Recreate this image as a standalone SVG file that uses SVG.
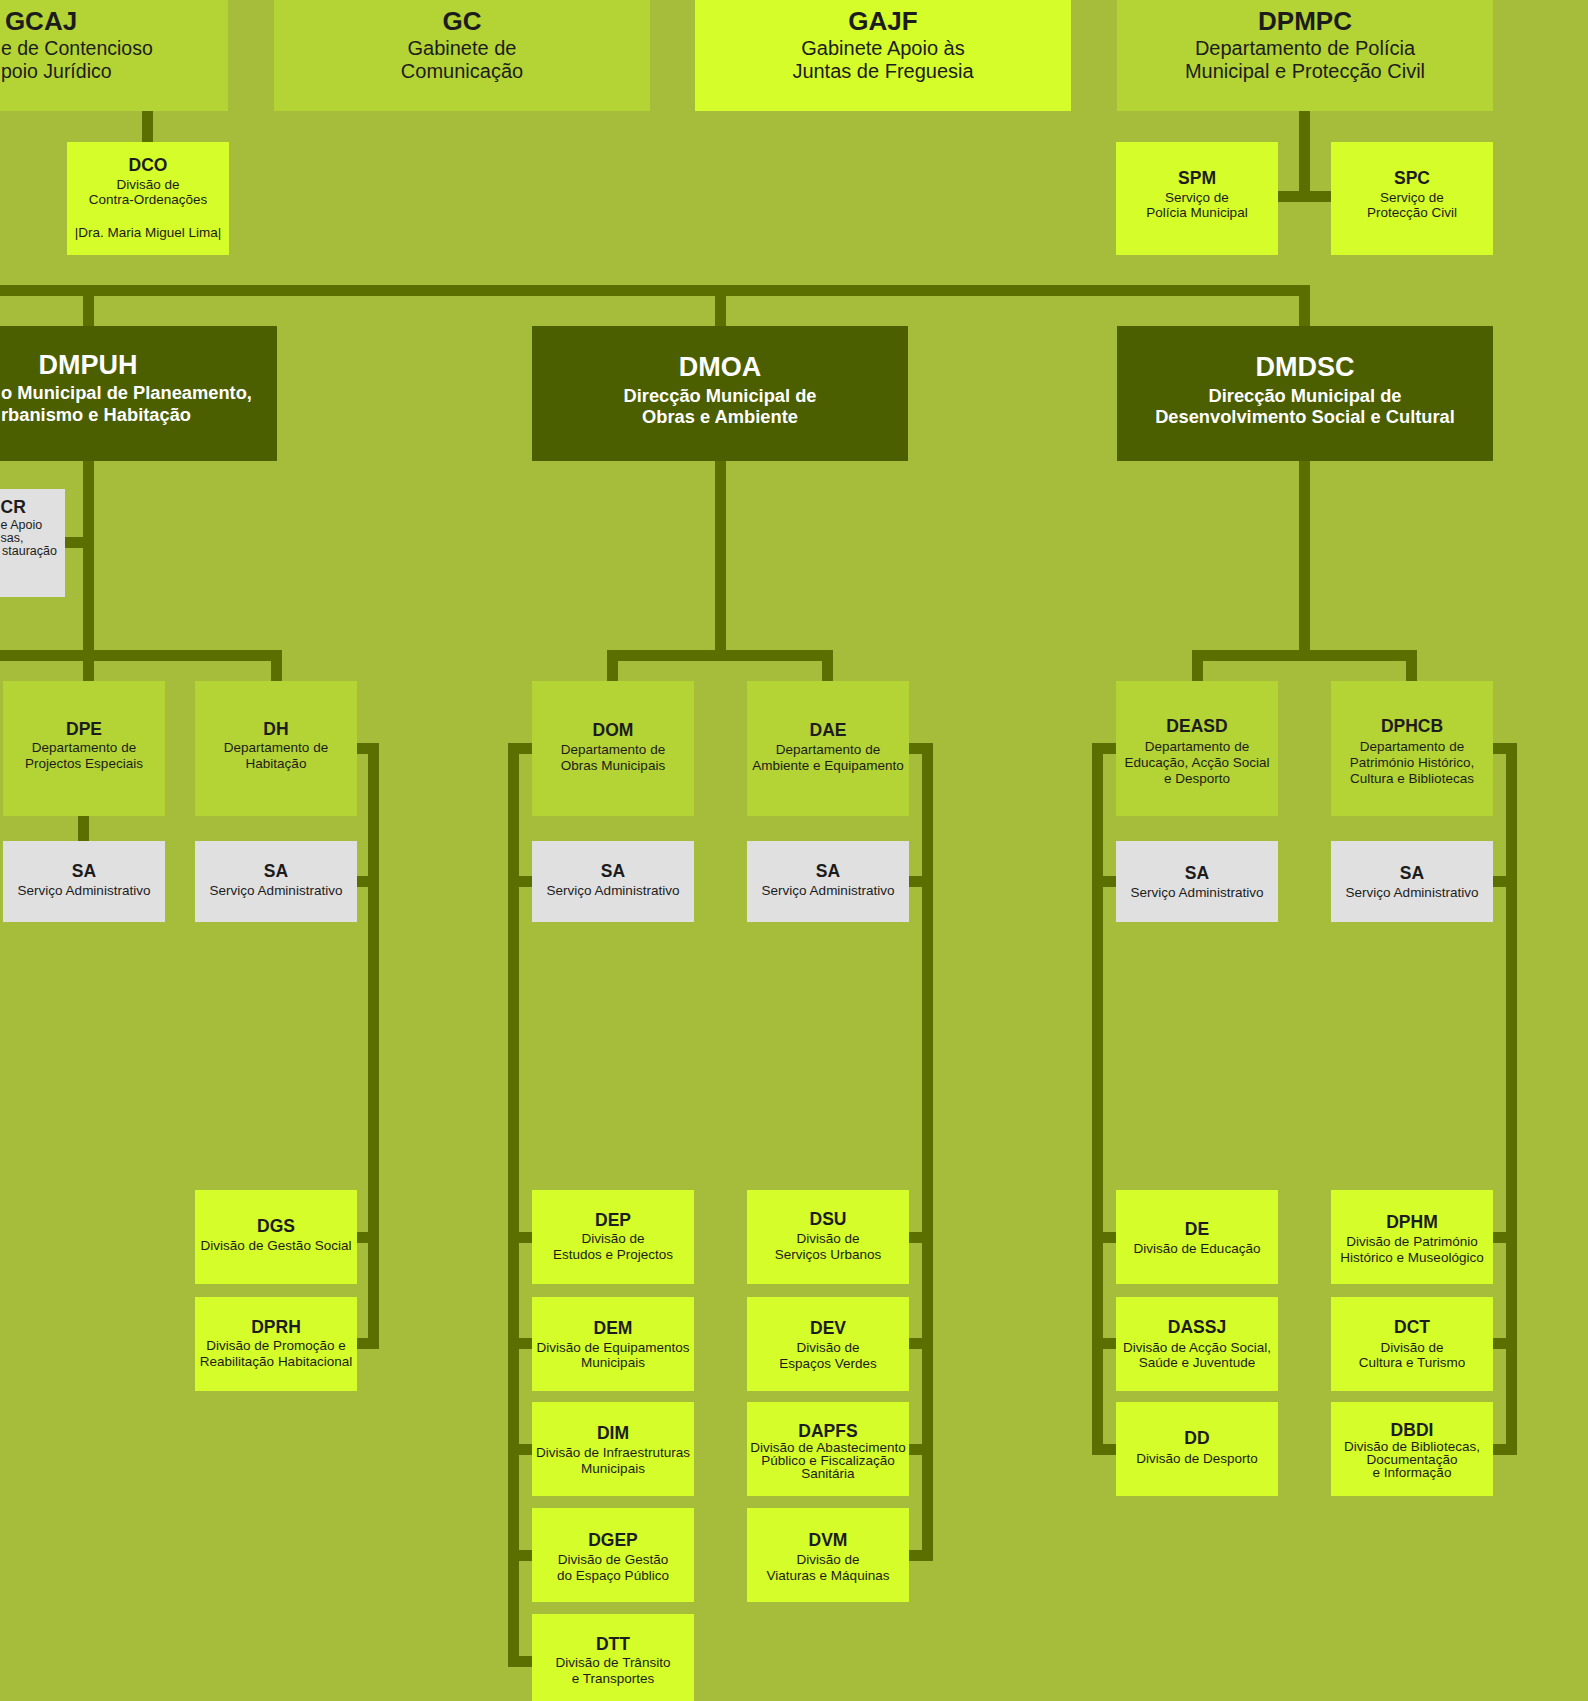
<svg xmlns="http://www.w3.org/2000/svg" width="1588" height="1701" viewBox="0 0 1588 1701">
<style>
text{font-family:"Liberation Sans",Arial,sans-serif;text-anchor:middle;fill:#1c1c1c}
.e{text-anchor:end}
.st{text-anchor:start}
.tt{font-size:26px;font-weight:bold}
.ts{font-size:20px}
.tf{font-size:19.5px}
.dt{font-size:27px;font-weight:bold;fill:#ffffff}
.ds{font-size:18.3px;font-weight:bold;fill:#ffffff}
.ti{font-size:17.5px;font-weight:bold}
.tx{font-size:13.5px}
.sm{font-size:12.5px}
.m{fill:#b3d434}
.b{fill:#d4fd2a}
.d{fill:#4b5e00}
.g{fill:#e0e0e0}
.c{fill:none;stroke:#5b6e00;stroke-width:11;stroke-linecap:butt;stroke-linejoin:miter}
</style>
<rect x="0" y="0" width="1588" height="1701" fill="#a5bd3a"/>

<g id="connectors">
<path class="c" d="M147.5 111 V142"/>
<path class="c" d="M1304.5 111 V196.5 M1278 196.5 H1331"/>
<path class="c" d="M0 290.5 H1304.5 V326 M88.5 290.5 V326 M720.5 290.5 V326"/>
<path class="c" d="M88.5 461 V681 M0 655.5 H276.5 V681 M65 542.5 H88.5"/>
<path class="c" d="M83.5 816 V841"/>
<path class="c" d="M720.5 461 V655.5 M612.5 681 V655.5 H827.5 V681"/>
<path class="c" d="M1304.5 461 V655.5 M1197.5 681 V655.5 H1411.5 V681"/>
<path class="c" d="M357 748.5 H373.5 V1343.5 H357 M357 881.5 H373.5 M357 1237.5 H373.5"/>
<path class="c" d="M532 748.5 H513.5 V1661.5 H532 M532 881.5 H513.5 M532 1237.5 H513.5 M532 1343.5 H513.5 M532 1449.5 H513.5 M532 1555.5 H513.5"/>
<path class="c" d="M909 748.5 H927.5 V1555.5 H909 M909 881.5 H927.5 M909 1237.5 H927.5 M909 1343.5 H927.5 M909 1449.5 H927.5"/>
<path class="c" d="M1116 748.5 H1097.5 V1449.5 H1116 M1116 881.5 H1097.5 M1116 1237.5 H1097.5 M1116 1343.5 H1097.5"/>
<path class="c" d="M1493 748.5 H1511.5 V1449.5 H1493 M1493 881.5 H1511.5 M1493 1237.5 H1511.5 M1493 1343.5 H1511.5"/>
</g>

<!-- top row -->
<g id="GCAJ"><rect class="m" x="-148" y="-10" width="376" height="121"/>
<text class="tt" x="41" y="30">GCAJ</text>
<text class="tf st" x="1" y="55">e de Contencioso</text>
<text class="tf st" x="1" y="78">poio Jurídico</text></g>
<g id="GC"><rect class="m" x="274" y="-10" width="376" height="121"/>
<text class="tt" x="462" y="30">GC</text>
<text class="ts" x="462" y="55">Gabinete de</text>
<text class="ts" x="462" y="78">Comunicação</text></g>
<g id="GAJF"><rect class="b" x="695" y="-10" width="376" height="121"/>
<text class="tt" x="883" y="30">GAJF</text>
<text class="ts" x="883" y="55">Gabinete Apoio às</text>
<text class="ts" x="883" y="78">Juntas de Freguesia</text></g>
<g id="DPMPC"><rect class="m" x="1117" y="-10" width="376" height="121"/>
<text class="tt" x="1305" y="30">DPMPC</text>
<text class="ts" x="1305" y="55">Departamento de Polícia</text>
<text class="ts" x="1305" y="78">Municipal e Protecção Civil</text></g>

<g id="DCO"><rect class="b" x="67" y="142" width="162" height="113"/>
<text class="ti" x="148" y="171">DCO</text>
<text class="tx" x="148" y="189">Divisão de</text>
<text class="tx" x="148" y="204">Contra-Ordenações</text>
<text class="tx" x="148" y="237">|Dra. Maria Miguel Lima|</text></g>
<g id="SPM"><rect class="b" x="1116" y="142" width="162" height="113"/>
<text class="ti" x="1197" y="184">SPM</text>
<text class="tx" x="1197" y="202">Serviço de</text>
<text class="tx" x="1197" y="217">Polícia Municipal</text></g>
<g id="SPC"><rect class="b" x="1331" y="142" width="162" height="113"/>
<text class="ti" x="1412" y="184">SPC</text>
<text class="tx" x="1412" y="202">Serviço de</text>
<text class="tx" x="1412" y="217">Protecção Civil</text></g>

<!-- directorates -->
<g id="DMPUH"><rect class="d" x="-99" y="326" width="376" height="135"/>
<text class="dt" x="88" y="374">DMPUH</text>
<text class="ds st" x="1" y="399">o Municipal de Planeamento,</text>
<text class="ds st" x="1" y="421">rbanismo e Habitação</text></g>
<g id="DMOA"><rect class="d" x="532" y="326" width="376" height="135"/>
<text class="dt" x="720" y="376">DMOA</text>
<text class="ds" x="720" y="402">Direcção Municipal de</text>
<text class="ds" x="720" y="423">Obras e Ambiente</text></g>
<g id="DMDSC"><rect class="d" x="1117" y="326" width="376" height="135"/>
<text class="dt" x="1305" y="376">DMDSC</text>
<text class="ds" x="1305" y="402">Direcção Municipal de</text>
<text class="ds" x="1305" y="423">Desenvolvimento Social e Cultural</text></g>

<g id="CR"><rect class="g" x="-97" y="489" width="162" height="108"/>
<text class="ti st" x="0.5" y="513">CR</text>
<text class="sm st" x="0.5" y="529">e Apoio</text>
<text class="sm st" x="0.5" y="542">sas,</text>
<text class="sm st" x="2" y="555">stauração</text></g>

<!-- departments -->
<g id="DPE"><rect class="m" x="3" y="681" width="162" height="135"/>
<text class="ti" x="84" y="735">DPE</text>
<text class="tx" x="84" y="752">Departamento de</text>
<text class="tx" x="84" y="768">Projectos Especiais</text></g>
<g id="DH"><rect class="m" x="195" y="681" width="162" height="135"/>
<text class="ti" x="276" y="735">DH</text>
<text class="tx" x="276" y="752">Departamento de</text>
<text class="tx" x="276" y="768">Habitação</text></g>
<g id="DOM"><rect class="m" x="532" y="681" width="162" height="135"/>
<text class="ti" x="613" y="736">DOM</text>
<text class="tx" x="613" y="754">Departamento de</text>
<text class="tx" x="613" y="770">Obras Municipais</text></g>
<g id="DAE"><rect class="m" x="747" y="681" width="162" height="135"/>
<text class="ti" x="828" y="736">DAE</text>
<text class="tx" x="828" y="754">Departamento de</text>
<text class="tx" x="828" y="770">Ambiente e Equipamento</text></g>
<g id="DEASD"><rect class="m" x="1116" y="681" width="162" height="135"/>
<text class="ti" x="1197" y="732">DEASD</text>
<text class="tx" x="1197" y="751">Departamento de</text>
<text class="tx" x="1197" y="767">Educação, Acção Social</text>
<text class="tx" x="1197" y="783">e Desporto</text></g>
<g id="DPHCB"><rect class="m" x="1331" y="681" width="162" height="135"/>
<text class="ti" x="1412" y="732">DPHCB</text>
<text class="tx" x="1412" y="751">Departamento de</text>
<text class="tx" x="1412" y="767">Património Histórico,</text>
<text class="tx" x="1412" y="783">Cultura e Bibliotecas</text></g>

<!-- SA -->
<g id="SA-DPE"><rect class="g" x="3" y="841" width="162" height="81"/>
<text class="ti" x="84" y="877">SA</text><text class="tx" x="84" y="895">Serviço Administrativo</text></g>
<g id="SA-DH"><rect class="g" x="195" y="841" width="162" height="81"/>
<text class="ti" x="276" y="877">SA</text><text class="tx" x="276" y="895">Serviço Administrativo</text></g>
<g id="SA-DOM"><rect class="g" x="532" y="841" width="162" height="81"/>
<text class="ti" x="613" y="877">SA</text><text class="tx" x="613" y="895">Serviço Administrativo</text></g>
<g id="SA-DAE"><rect class="g" x="747" y="841" width="162" height="81"/>
<text class="ti" x="828" y="877">SA</text><text class="tx" x="828" y="895">Serviço Administrativo</text></g>
<g id="SA-DEASD"><rect class="g" x="1116" y="841" width="162" height="81"/>
<text class="ti" x="1197" y="879">SA</text><text class="tx" x="1197" y="897">Serviço Administrativo</text></g>
<g id="SA-DPHCB"><rect class="g" x="1331" y="841" width="162" height="81"/>
<text class="ti" x="1412" y="879">SA</text><text class="tx" x="1412" y="897">Serviço Administrativo</text></g>

<!-- divisions DH -->
<g id="DGS"><rect class="b" x="195" y="1190" width="162" height="94"/>
<text class="ti" x="276" y="1232">DGS</text>
<text class="tx" x="276" y="1250">Divisão de Gestão Social</text></g>
<g id="DPRH"><rect class="b" x="195" y="1297" width="162" height="94"/>
<text class="ti" x="276" y="1333">DPRH</text>
<text class="tx" x="276" y="1350">Divisão de Promoção e</text>
<text class="tx" x="276" y="1366">Reabilitação Habitacional</text></g>

<!-- divisions DOM -->
<g id="DEP"><rect class="b" x="532" y="1190" width="162" height="94"/>
<text class="ti" x="613" y="1226">DEP</text>
<text class="tx" x="613" y="1243">Divisão de</text>
<text class="tx" x="613" y="1259">Estudos e Projectos</text></g>
<g id="DEM"><rect class="b" x="532" y="1297" width="162" height="94"/>
<text class="ti" x="613" y="1334">DEM</text>
<text class="tx" x="613" y="1352">Divisão de Equipamentos</text>
<text class="tx" x="613" y="1367">Municipais</text></g>
<g id="DIM"><rect class="b" x="532" y="1402" width="162" height="94"/>
<text class="ti" x="613" y="1439">DIM</text>
<text class="tx" x="613" y="1457">Divisão de Infraestruturas</text>
<text class="tx" x="613" y="1473">Municipais</text></g>
<g id="DGEP"><rect class="b" x="532" y="1508" width="162" height="94"/>
<text class="ti" x="613" y="1546">DGEP</text>
<text class="tx" x="613" y="1564">Divisão de Gestão</text>
<text class="tx" x="613" y="1580">do Espaço Público</text></g>
<g id="DTT"><rect class="b" x="532" y="1614" width="162" height="94"/>
<text class="ti" x="613" y="1650">DTT</text>
<text class="tx" x="613" y="1667">Divisão de Trânsito</text>
<text class="tx" x="613" y="1683">e Transportes</text></g>

<!-- divisions DAE -->
<g id="DSU"><rect class="b" x="747" y="1190" width="162" height="94"/>
<text class="ti" x="828" y="1225">DSU</text>
<text class="tx" x="828" y="1243">Divisão de</text>
<text class="tx" x="828" y="1259">Serviços Urbanos</text></g>
<g id="DEV"><rect class="b" x="747" y="1297" width="162" height="94"/>
<text class="ti" x="828" y="1334">DEV</text>
<text class="tx" x="828" y="1352">Divisão de</text>
<text class="tx" x="828" y="1368">Espaços Verdes</text></g>
<g id="DAPFS"><rect class="b" x="747" y="1402" width="162" height="94"/>
<text class="ti" x="828" y="1437">DAPFS</text>
<text class="tx" x="828" y="1452">Divisão de Abastecimento</text>
<text class="tx" x="828" y="1465">Público e Fiscalização</text>
<text class="tx" x="828" y="1478">Sanitária</text></g>
<g id="DVM"><rect class="b" x="747" y="1508" width="162" height="94"/>
<text class="ti" x="828" y="1546">DVM</text>
<text class="tx" x="828" y="1564">Divisão de</text>
<text class="tx" x="828" y="1580">Viaturas e Máquinas</text></g>

<!-- divisions DEASD -->
<g id="DE"><rect class="b" x="1116" y="1190" width="162" height="94"/>
<text class="ti" x="1197" y="1235">DE</text>
<text class="tx" x="1197" y="1253">Divisão de Educação</text></g>
<g id="DASSJ"><rect class="b" x="1116" y="1297" width="162" height="94"/>
<text class="ti" x="1197" y="1333">DASSJ</text>
<text class="tx" x="1197" y="1352">Divisão de Acção Social,</text>
<text class="tx" x="1197" y="1367">Saúde e Juventude</text></g>
<g id="DD"><rect class="b" x="1116" y="1402" width="162" height="94"/>
<text class="ti" x="1197" y="1444">DD</text>
<text class="tx" x="1197" y="1463">Divisão de Desporto</text></g>

<!-- divisions DPHCB -->
<g id="DPHM"><rect class="b" x="1331" y="1190" width="162" height="94"/>
<text class="ti" x="1412" y="1228">DPHM</text>
<text class="tx" x="1412" y="1246">Divisão de Património</text>
<text class="tx" x="1412" y="1262">Histórico e Museológico</text></g>
<g id="DCT"><rect class="b" x="1331" y="1297" width="162" height="94"/>
<text class="ti" x="1412" y="1333">DCT</text>
<text class="tx" x="1412" y="1352">Divisão de</text>
<text class="tx" x="1412" y="1367">Cultura e Turismo</text></g>
<g id="DBDI"><rect class="b" x="1331" y="1402" width="162" height="94"/>
<text class="ti" x="1412" y="1436">DBDI</text>
<text class="tx" x="1412" y="1451">Divisão de Bibliotecas,</text>
<text class="tx" x="1412" y="1464">Documentação</text>
<text class="tx" x="1412" y="1477">e Informação</text></g>
</svg>
